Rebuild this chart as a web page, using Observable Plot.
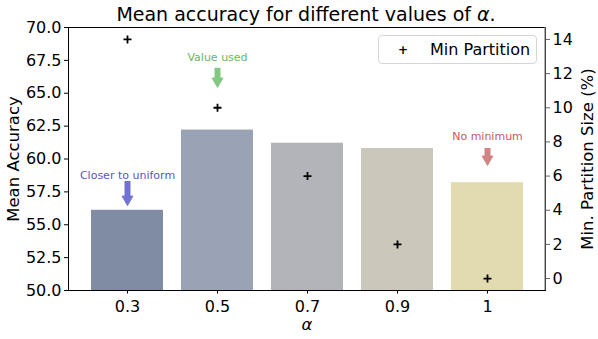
<!DOCTYPE html>
<html>
<head>
<meta charset="utf-8">
<script src="https://cdn.jsdelivr.net/npm/d3@7"></script>
<script src="https://cdn.jsdelivr.net/npm/@observablehq/plot@0.6"></script>
<style>
  body { margin: 0; background: white; font-family: "DejaVu Sans", sans-serif; }
  #wrap { position: relative; width: 598px; height: 339px; }
  #title { position: absolute; left: 0; top: 0; width: 598px; text-align: center; font-size: 19px; line-height: 28px; height: 28px; padding-left: 14px; box-sizing: border-box; }
  #legend { position: absolute; left: 378px; top: 35px; width: 159px; height: 29px; border: 1px solid #d6d6d6; border-radius: 4px; box-sizing: border-box; background: rgba(255,255,255,0.8); font-size: 16px; }
  #legend .mk { position: absolute; left: 19px; top: 2px; font-size: 12px; font-weight: bold; line-height: 24px; }
  #legend .lb { position: absolute; left: 51px; top: 0; line-height: 27px; }
  svg { overflow: visible; }
</style>
</head>
<body>
<div id="wrap">
  <div id="title">Mean accuracy for different values of <i>α</i>.</div>
  <div id="chart"></div>
  <div id="legend"><span class="mk">+</span><span class="lb">Min Partition</span></div>
</div>
<script>
// ---- data ----
const alphas = ["0.3", "0.5", "0.7", "0.9", "1"];
const meanAccuracy = [56.1, 62.2, 61.2, 60.8, 58.2];
const minPartition = [14, 10, 6, 2, 0];
const barColors = ["#7f8ca3", "#9aa3b5", "#b3b4b9", "#cbc8bb", "#e2dbb0"];
const leftTicks = [50, 52.5, 55, 57.5, 60, 62.5, 65, 67.5, 70];
const rightTicks = [0, 2, 4, 6, 8, 10, 12, 14];
const annotLabels = ["Closer to uniform", "Value used", "No minimum"];
const annotAlphas = ["0.3", "0.5", "1"];
const annotTextY = [58.75, 67.72, 61.71];
const annotArrowTop = [58.29, 66.90, 60.80];
const annotArrowTip = [56.46, 65.44, 59.51];
const annotTextColors = ["#5757c4", "#66b966", "#c45a5a"];
const annotArrowColors = ["#7272d2", "#82c882", "#d08585"];

// ---- scales mapping (twin axis) ----
const leftDomain = [50, 70];
const rightDomain = [-0.7, 14.7];
const toLeft = v => leftDomain[0] + (v - rightDomain[0]) / (rightDomain[1] - rightDomain[0]) * (leftDomain[1] - leftDomain[0]);
const fromLeft = y => rightDomain[0] + (y - leftDomain[0]) / (leftDomain[1] - leftDomain[0]) * (rightDomain[1] - rightDomain[0]);

const bars = alphas.map((a, i) => ({alpha: a, acc: meanAccuracy[i], color: barColors[i]}));
const pts = alphas.map((a, i) => ({alpha: a, mp: minPartition[i], yv: toLeft(minPartition[i])}));
const annots = annotLabels.map((l, i) => ({label: l, alpha: annotAlphas[i], ty: annotTextY[i], top: annotArrowTop[i], tip: annotArrowTip[i], tc: annotTextColors[i], ac: annotArrowColors[i]}));

const rightSpine = (index, scales, values, dim) => {
  const ns = "http://www.w3.org/2000/svg";
  const l = document.createElementNS(ns, "line");
  const x = dim.width - dim.marginRight;
  l.setAttribute("x1", x); l.setAttribute("x2", x);
  l.setAttribute("y1", dim.marginTop); l.setAttribute("y2", dim.height - dim.marginBottom);
  l.setAttribute("stroke", "#7a7a7a"); l.setAttribute("stroke-width", 1.2);
  return l;
};

const chart = Plot.plot({
  width: 598,
  height: 339,
  marginLeft: 68,
  marginRight: 53,
  marginTop: 27,
  marginBottom: 49,
  style: {fontFamily: "DejaVu Sans, sans-serif", fontSize: "16px", background: "white", color: "black", overflow: "visible"},
  x: {type: "band", domain: alphas, paddingInner: 0.2, paddingOuter: 0.24, align: 0.5},
  y: {domain: leftDomain},
  color: {type: "identity"},
  marks: [
    Plot.barY(bars, {x: "alpha", y1: 50, y2: "acc", fill: "color"}),
    Plot.dot(pts, {x: "alpha", y: "yv", symbol: "plus", r: 2.7, stroke: "black", strokeWidth: 1.8}),
    Plot.ruleX(annots, {x: "alpha", y1: "top", y2: "tip", stroke: "ac", strokeWidth: 6, insetBottom: 8}),
    Plot.dot(annots, {x: "alpha", y: "tip", symbol: "triangle", rotate: 180, r: 4.1, dy: -6.3, fill: "ac", stroke: "ac", strokeWidth: 0.8}),
    Plot.text(annots, {x: "alpha", y: "ty", text: "label", fill: "tc", fontSize: 11}),
    Plot.frame({stroke: "black", strokeWidth: 1}),
    rightSpine,
    Plot.axisX({tickSize: 3.5, tickPadding: 7, label: null}),
    Plot.axisY(leftTicks, {anchor: "left", tickSize: 4, tickPadding: 3, tickFormat: d => d.toFixed(1), label: null}),
    Plot.axisY(rightTicks.map(toLeft), {anchor: "right", tickSize: 4, tickPadding: 3, stroke: "#666", tickFormat: y => String(Math.round(fromLeft(y))), label: null}),
    Plot.text(["Mean Accuracy"], {text: d => d, frameAnchor: "left", dx: -55, dy: 0, rotate: -90, textAnchor: "middle", lineAnchor: "middle", fontSize: 16.5}),
    Plot.text(["Min. Partition Size (%)"], {text: d => d, frameAnchor: "right", dx: 42, rotate: -90, textAnchor: "middle", lineAnchor: "middle", fontSize: 16.5}),
    Plot.text(["α"], {text: d => d, frameAnchor: "bottom", dy: 34, textAnchor: "middle", lineAnchor: "middle", fontStyle: "italic", fontSize: 16.5})
  ]
});
document.getElementById("chart").appendChild(chart);
</script>
</body>
</html>
